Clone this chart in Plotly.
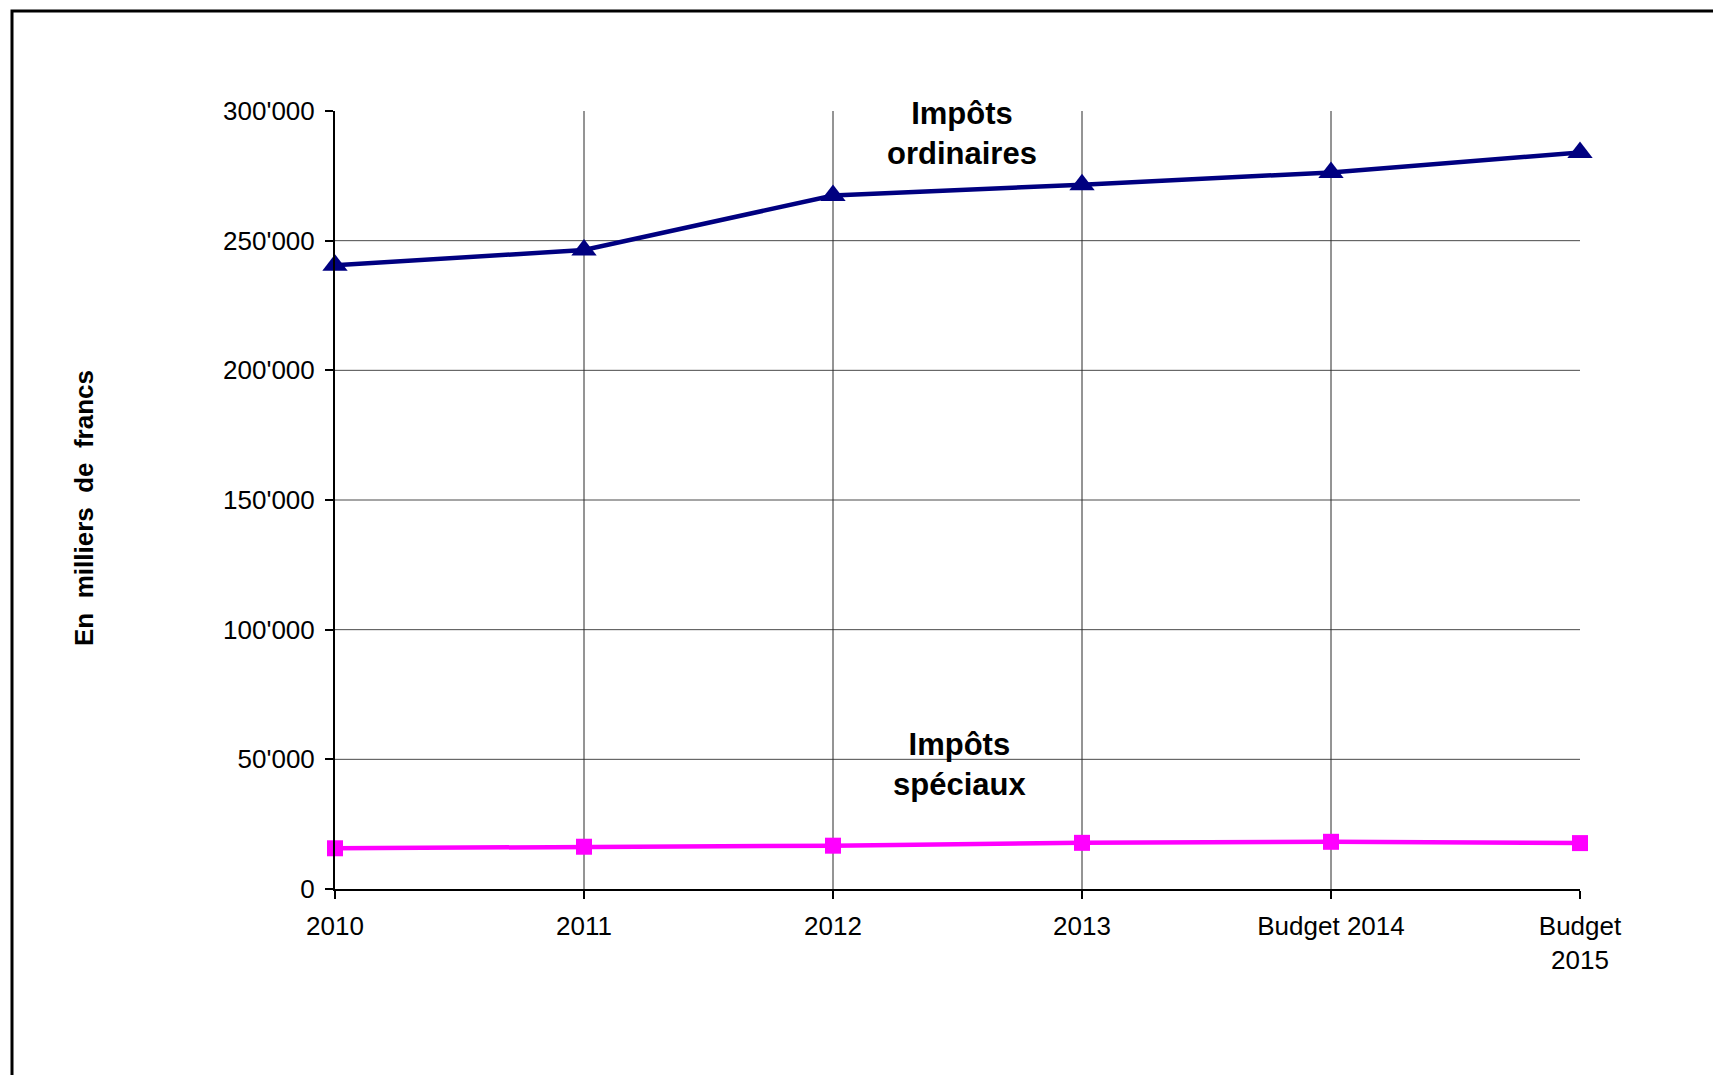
import plotly.graph_objects as go

# Catégories (années) et séries en milliers de francs
categories = ["2010", "2011", "2012", "2013", "Budget 2014", "Budget<br>2015"]
impots_ordinaires = [240500, 246400, 267400, 271600, 276300, 284000]
impots_speciaux = [15700, 16300, 16700, 17800, 18200, 17700]
y_ticks = [0, 50000, 100000, 150000, 200000, 250000, 300000]
y_tick_labels = ["0", "50'000", "100'000", "150'000", "200'000", "250'000", "300'000"]

x_pos = list(range(len(categories)))
FONT = "Liberation Sans, Arial, sans-serif"

fig = go.Figure()

fig.add_trace(go.Scatter(
    x=x_pos, y=impots_ordinaires, mode="lines+markers",
    line=dict(color="#000080", width=4.5),
    marker=dict(symbol="triangle-up", size=22, color="#000080"),
    cliponaxis=False, showlegend=False,
))
fig.add_trace(go.Scatter(
    x=x_pos, y=impots_speciaux, mode="lines+markers",
    line=dict(color="#FF00FF", width=4.5),
    marker=dict(symbol="square", size=16, color="#FF00FF"),
    cliponaxis=False, showlegend=False,
))

shapes = []
# horizontal gridlines (none at the top value)
for v in y_ticks[1:-1]:
    shapes.append(dict(type="line", xref="x", yref="y", x0=x_pos[0], x1=x_pos[-1],
                       y0=v, y1=v, line=dict(color="#4a4a4a", width=1), layer="below"))
# vertical gridlines (none at the last category)
for xp in x_pos[1:-1]:
    shapes.append(dict(type="line", xref="x", yref="y", x0=xp, x1=xp,
                       y0=y_ticks[0], y1=y_ticks[-1], line=dict(color="#2a2a2a", width=1),
                       layer="below"))
# outer frame of the chart
shapes.append(dict(type="rect", xref="paper", yref="paper",
                   x0=(12 - 335) / 1245, x1=(1725 - 335) / 1245,
                   y0=(889 - 1090) / 778, y1=(889 - 11) / 778,
                   line=dict(color="black", width=3), fillcolor="rgba(0,0,0,0)"))

fig.update_layout(
    width=1713, height=1075,
    margin=dict(l=335, r=133, t=111, b=186),
    paper_bgcolor="white", plot_bgcolor="white",
    font=dict(family=FONT, color="black", size=26),
    shapes=shapes,
    annotations=[
        dict(x=2.52, y=291300, xref="x", yref="y", text="<b>Impôts<br>ordinaires</b>",
             showarrow=False, font=dict(size=31, family=FONT, color="black"), align="center"),
        dict(x=2.51, y=48200, xref="x", yref="y", text="<b>Impôts<br>spéciaux</b>",
             showarrow=False, font=dict(size=31, family=FONT, color="black"), align="center"),
        dict(x=(84 - 335) / 1245, y=(889 - 508) / 778, xref="paper", yref="paper",
             xanchor="center", yanchor="middle",
             text="<b>En\u00a0\u00a0milliers\u00a0\u00a0de\u00a0\u00a0francs</b>",
             textangle=-90, showarrow=False,
             font=dict(size=26, family=FONT, color="black")),
    ],
)

fig.update_xaxes(
    range=[0, 5], tickvals=x_pos, ticktext=categories,
    showgrid=False, zeroline=False,
    showline=True, linecolor="black", linewidth=2,
    ticks="outside", ticklen=8, tickwidth=2, tickcolor="black",
    ticklabelstandoff=5,
    tickfont=dict(size=26, family=FONT, color="black"),
    fixedrange=True,
)
fig.update_yaxes(
    range=[0, 300000], tickvals=y_ticks, ticktext=y_tick_labels,
    showgrid=False, zeroline=False,
    showline=True, linecolor="black", linewidth=2,
    ticks="outside", ticklen=8, tickwidth=2, tickcolor="black",
    ticklabelstandoff=5,
    tickfont=dict(size=26, family=FONT, color="black"),
    fixedrange=True,
)

fig.write_html("out.html")
